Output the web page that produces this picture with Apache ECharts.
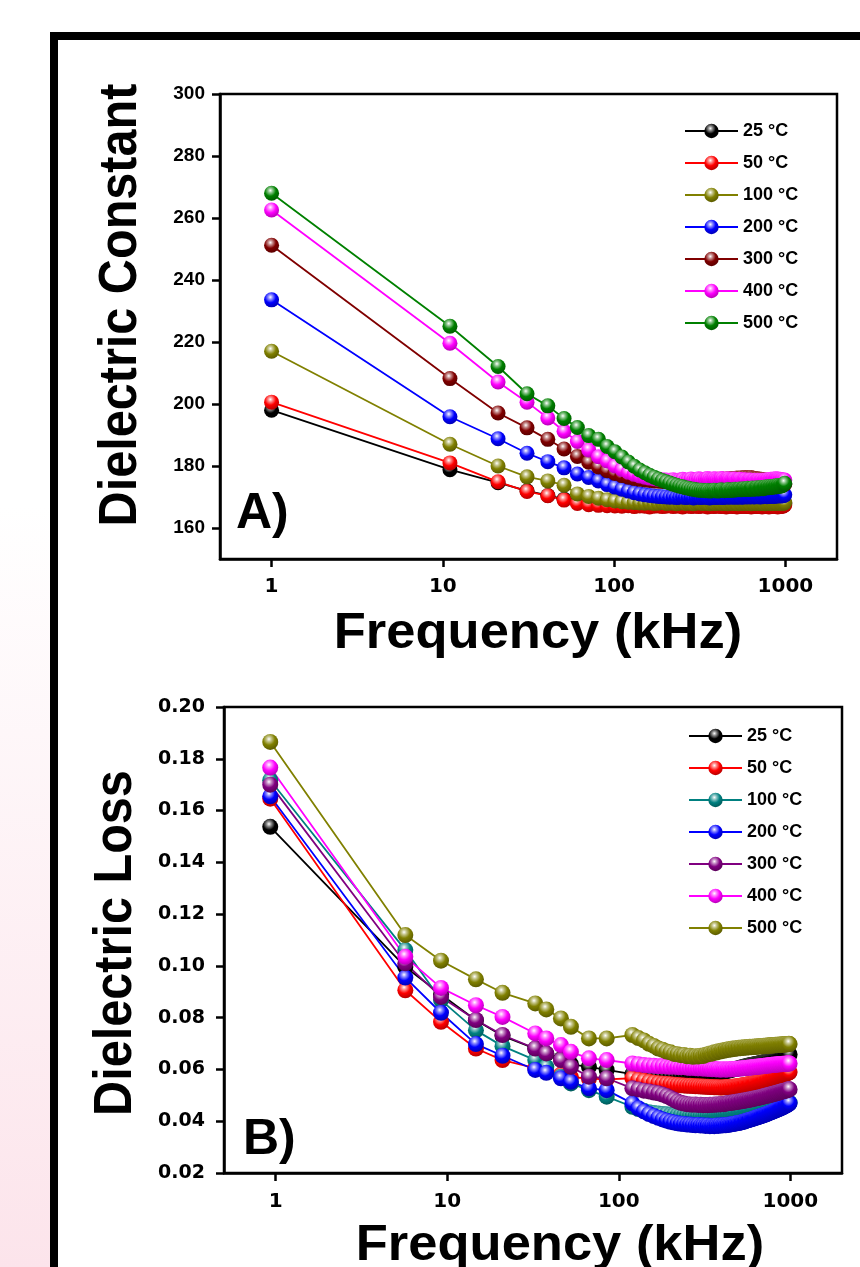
<!DOCTYPE html>
<html>
<head>
<meta charset="utf-8">
<script src="https://cdn.jsdelivr.net/npm/echarts@6/dist/echarts.min.js"></script>
<style>
html, body { margin: 0; padding: 0; background: #fff; }
#wrap { position: relative; width: 860px; height: 1267px; }
#chartA, #chartB { position: absolute; left: 0; top: 0; width: 860px; height: 1267px; }
</style>
</head>
<body>
<div id="wrap"><div id="chartA"></div><div id="chartB"></div></div>
<script>
// ---- data ----
const tempNames = ['25 °C', '50 °C', '100 °C', '200 °C', '300 °C', '400 °C', '500 °C']
const colorsA = ['#000000', '#ff0000', '#808000', '#0000ff', '#800000', '#ff00ff', '#008000']
const colorsB = ['#000000', '#ff0000', '#008080', '#0000ff', '#800080', '#ff00ff', '#808000']
const freqTicks = [1, 10, 100, 1000]
const constTicks = [160, 180, 200, 220, 240, 260, 280, 300]
const lossTicks = [0.02, 0.04, 0.06, 0.08, 0.10, 0.12, 0.14, 0.16, 0.18, 0.20]

// frequency (kHz), panel A
const freqA = [1, 11, 21, 31, 41, 51, 61, 71, 81, 91,
  101, 111, 121, 131, 141, 151, 161, 171, 181, 191,
  201, 211, 221, 231, 241, 251, 261, 271, 281, 291,
  301, 311, 321, 331, 341, 351, 361, 371, 381, 391,
  401, 411, 421, 431, 441, 451, 461, 471, 481, 491,
  501, 511, 521, 531, 541, 551, 561, 571, 581, 591,
  601, 611, 621, 631, 641, 651, 661, 671, 681, 691,
  701, 711, 721, 731, 741, 751, 761, 771, 781, 791,
  801, 811, 821, 831, 841, 851, 861, 871, 881, 891,
  901, 911, 921, 931, 941, 951, 961, 971, 981, 991]

const const25 = [198.0, 178.8, 174.6, 172.0, 170.5, 169.3, 168.4, 167.9, 167.7, 167.6,
  167.5, 167.6, 167.4, 167.5, 167.7, 167.5, 167.4, 167.6, 167.5, 167.3,
  167.5, 167.6, 167.4, 167.5, 167.7, 167.5, 167.3, 167.5, 167.6, 167.4,
  167.5, 167.7, 167.5, 167.4, 167.6, 167.5, 167.3, 167.5, 167.6, 167.4,
  167.6, 167.5, 167.4, 167.6, 167.7, 167.5, 167.4, 167.6, 167.5, 167.4,
  167.6, 167.7, 167.5, 167.4, 167.6, 167.5, 167.7, 167.6, 167.4, 167.5,
  167.7, 167.6, 167.5, 167.7, 167.8, 167.6, 167.5, 167.7, 167.6, 167.5,
  167.7, 167.8, 167.6, 167.5, 167.7, 167.6, 167.8, 167.7, 167.5, 167.6,
  167.8, 167.7, 167.6, 167.8, 167.9, 167.7, 167.6, 167.8, 167.7, 167.6,
  167.8, 167.9, 167.7, 167.6, 167.8, 167.7, 167.9, 167.8, 167.7, 167.9]
const const50 = [200.6, 181.0, 174.9, 171.8, 170.4, 169.0, 167.9, 167.5, 167.3, 167.2,
  167.1, 167.0, 167.2, 166.9, 167.1, 167.0, 166.8, 167.0, 167.1, 166.9,
  167.0, 167.2, 166.9, 167.1, 167.0, 166.8, 167.0, 167.2, 166.9, 167.0,
  167.1, 166.9, 167.0, 167.2, 167.0, 166.8, 167.0, 167.1, 166.9, 167.0,
  167.2, 167.0, 166.9, 167.1, 167.0, 166.8, 167.0, 167.2, 167.0, 166.9,
  167.1, 167.0, 166.8, 167.0, 167.1, 166.9, 167.0, 167.2, 167.0, 166.9,
  167.0, 167.1, 166.9, 166.8, 167.0, 167.1, 166.9, 167.0, 167.2, 167.0,
  166.9, 167.1, 167.0, 166.8, 167.0, 167.1, 166.9, 167.0, 167.2, 167.0,
  166.8, 167.0, 167.1, 166.9, 167.0, 167.2, 167.0, 166.9, 167.1, 167.0,
  166.8, 167.0, 167.1, 166.9, 167.0, 167.2, 167.0, 167.1, 167.3, 167.4]
const const100 = [217.0, 187.0, 180.0, 176.5, 175.2, 173.8, 171.0, 170.2, 169.6, 169.1,
  168.7, 168.5, 168.3, 168.2, 168.1, 168.0, 168.1, 167.9, 168.0, 168.2,
  167.9, 168.0, 168.1, 167.8, 168.0, 168.2, 167.9, 168.1, 168.0, 167.8,
  168.0, 168.2, 168.0, 167.9, 168.1, 168.0, 167.8, 168.0, 168.1, 167.9,
  168.0, 168.2, 168.0, 167.9, 168.1, 168.0, 167.8, 168.0, 168.2, 168.0,
  167.9, 168.1, 168.0, 167.8, 168.0, 168.1, 167.9, 168.0, 168.2, 168.0,
  167.9, 168.1, 168.0, 167.8, 168.0, 168.1, 167.9, 168.1, 168.0, 167.9,
  168.0, 168.2, 168.0, 167.9, 168.1, 168.0, 167.8, 168.0, 168.1, 167.9,
  168.0, 168.2, 168.0, 167.9, 168.1, 168.0, 167.9, 168.1, 168.2, 168.0,
  168.1, 167.9, 168.0, 168.2, 168.0, 168.1, 167.9, 168.1, 168.0, 168.2]
const const200 = [233.6, 195.9, 188.8, 184.1, 181.4, 179.4, 177.4, 176.3, 175.2, 174.0,
  173.2, 172.5, 171.9, 171.4, 171.0, 170.7, 170.5, 170.3, 170.2, 170.1,
  170.0, 169.9, 170.0, 169.8, 169.9, 170.1, 169.8, 169.9, 170.0, 169.7,
  169.9, 170.0, 169.8, 169.9, 170.1, 169.8, 169.7, 169.9, 170.0, 169.8,
  169.9, 170.1, 169.9, 169.8, 170.0, 170.1, 169.9, 170.0, 170.2, 169.9,
  170.0, 170.1, 169.9, 170.0, 170.2, 170.0, 169.9, 170.1, 170.2, 170.0,
  170.1, 170.2, 170.0, 170.1, 170.3, 170.1, 170.0, 170.2, 170.3, 170.1,
  170.2, 170.0, 170.1, 170.3, 170.1, 170.2, 170.4, 170.2, 170.1, 170.3,
  170.2, 170.4, 170.2, 170.3, 170.5, 170.3, 170.2, 170.4, 170.3, 170.5,
  170.3, 170.4, 170.6, 170.4, 170.3, 170.5, 170.4, 170.6, 170.5, 170.7]
const const300 = [251.2, 208.2, 197.1, 192.3, 188.6, 185.5, 183.1, 181.2, 179.7, 178.5,
  177.6, 176.9, 176.4, 176.0, 175.7, 175.5, 175.3, 175.2, 175.1, 175.0,
  175.0, 174.9, 175.1, 174.8, 175.0, 175.2, 174.9, 175.1, 175.3, 175.0,
  175.2, 175.4, 175.1, 175.3, 175.5, 175.2, 175.4, 175.6, 175.3, 175.5,
  175.7, 175.4, 175.6, 175.8, 175.5, 175.7, 175.9, 175.6, 175.8, 176.0,
  175.7, 175.9, 176.1, 175.8, 176.0, 176.2, 175.9, 176.1, 176.3, 176.0,
  176.2, 175.9, 176.1, 176.3, 176.0, 175.8, 176.0, 175.7, 175.9, 175.6,
  175.8, 175.5, 175.7, 175.4, 175.6, 175.3, 175.5, 175.2, 175.4, 175.1,
  175.3, 175.0, 175.2, 174.9, 175.1, 174.8, 175.0, 174.7, 174.9, 174.6,
  174.8, 174.5, 174.7, 174.4, 174.6, 174.3, 174.5, 174.2, 174.4, 174.1]
const const400 = [262.6, 219.6, 207.1, 200.6, 195.5, 191.2, 187.9, 185.2, 183.0, 181.6,
  180.0, 178.9, 178.0, 177.3, 176.8, 176.4, 176.1, 175.9, 175.7, 175.6,
  175.5, 175.4, 175.6, 175.3, 175.5, 175.7, 175.4, 175.6, 175.8, 175.5,
  175.6, 175.9, 175.7, 175.5, 175.8, 176.0, 175.7, 175.6, 175.9, 175.8,
  175.6, 175.7, 176.0, 175.8, 175.5, 175.7, 175.9, 175.6, 175.4, 175.7,
  175.8, 175.5, 175.3, 175.6, 175.7, 175.4, 175.2, 175.5, 175.6, 175.3,
  175.1, 175.4, 175.5, 175.2, 175.0, 175.3, 175.4, 175.1, 175.2, 175.4,
  175.3, 175.0, 175.2, 175.4, 175.1, 175.3, 175.5, 175.2, 175.4, 175.6,
  175.3, 175.5, 175.7, 175.4, 175.6, 175.8, 175.5, 175.7, 175.9, 175.6,
  175.8, 175.6, 175.4, 175.7, 175.5, 175.3, 175.6, 175.4, 175.2, 175.5]
const const500 = [268.0, 225.1, 212.1, 203.3, 199.4, 195.3, 192.4, 189.8, 188.6, 186.3,
  184.6, 182.9, 181.3, 179.9, 178.7, 177.8, 177.0, 176.4, 175.8, 175.3,
  174.9, 174.5, 174.1, 173.8, 173.5, 173.3, 173.0, 172.8, 172.6, 172.5,
  172.3, 172.2, 172.2, 172.1, 172.0, 172.1, 171.9, 172.0, 172.2, 172.1,
  171.9, 172.0, 172.3, 172.1, 172.0, 172.2, 172.4, 172.1, 172.2, 172.3,
  172.2, 172.5, 172.3, 172.4, 172.6, 172.3, 172.5, 172.7, 172.4, 172.5,
  172.8, 172.6, 172.4, 172.7, 172.9, 172.6, 172.5, 172.8, 173.0, 172.7,
  172.6, 172.9, 173.1, 172.8, 172.7, 173.0, 173.2, 172.9, 173.1, 173.3,
  173.0, 173.2, 173.4, 173.1, 173.3, 173.5, 173.2, 173.4, 173.6, 173.3,
  173.5, 173.7, 173.4, 173.6, 173.8, 173.6, 173.8, 174.0, 174.2, 174.4]

// frequency (kHz), panel B
const freqB = [0.93, 5.7, 9.2, 14.7, 21, 32.6, 37.8, 46, 52.6, 67, 85,
  120, 130, 140, 150, 160, 170, 180, 190, 200, 210,
  220, 230, 240, 250, 260, 270, 280, 290, 300, 310,
  320, 330, 340, 350, 360, 370, 380, 390, 400, 410,
  420, 430, 440, 450, 460, 470, 480, 490, 500, 510,
  520, 530, 540, 550, 560, 570, 580, 590, 600, 610,
  620, 630, 640, 650, 660, 670, 680, 690, 700, 710,
  720, 730, 740, 750, 760, 770, 780, 790, 800, 810,
  820, 830, 840, 850, 860, 870, 880, 890, 900, 910,
  920, 930, 940, 950, 960, 970, 980, 990]

const loss25 = [0.1537, 0.0996, 0.0890, 0.0790, 0.0730, 0.0680, 0.0660, 0.0640, 0.0620, 0.0610, 0.0598,
  0.0582, 0.0580, 0.0579, 0.0578, 0.0577, 0.0576, 0.0576, 0.0575, 0.0575, 0.0575,
  0.0575, 0.0575, 0.0576, 0.0576, 0.0577, 0.0577, 0.0578, 0.0578, 0.0579, 0.0580,
  0.0581, 0.0582, 0.0583, 0.0584, 0.0585, 0.0586, 0.0588, 0.0589, 0.0590, 0.0592,
  0.0593, 0.0595, 0.0596, 0.0598, 0.0599, 0.0601, 0.0602, 0.0604, 0.0605, 0.0607,
  0.0608, 0.0609, 0.0611, 0.0612, 0.0613, 0.0615, 0.0616, 0.0617, 0.0618, 0.0619,
  0.0620, 0.0621, 0.0622, 0.0623, 0.0624, 0.0625, 0.0626, 0.0627, 0.0628, 0.0629,
  0.0630, 0.0631, 0.0632, 0.0633, 0.0634, 0.0635, 0.0636, 0.0637, 0.0638, 0.0639,
  0.0640, 0.0641, 0.0642, 0.0643, 0.0644, 0.0645, 0.0646, 0.0647, 0.0648, 0.0649,
  0.0650, 0.0651, 0.0652, 0.0653, 0.0654, 0.0655, 0.0656, 0.0658]
const loss50 = [0.1646, 0.0906, 0.0784, 0.0681, 0.0636, 0.0605, 0.0595, 0.0580, 0.0570, 0.0565, 0.0562,
  0.0566, 0.0560, 0.0556, 0.0552, 0.0549, 0.0547, 0.0545, 0.0544, 0.0543, 0.0541,
  0.0540, 0.0539, 0.0538, 0.0537, 0.0537, 0.0536, 0.0535, 0.0535, 0.0534, 0.0534,
  0.0533, 0.0533, 0.0532, 0.0532, 0.0531, 0.0531, 0.0531, 0.0530, 0.0530, 0.0531,
  0.0531, 0.0532, 0.0532, 0.0533, 0.0533, 0.0534, 0.0534, 0.0535, 0.0536, 0.0537,
  0.0538, 0.0539, 0.0540, 0.0541, 0.0542, 0.0543, 0.0544, 0.0545, 0.0546, 0.0547,
  0.0548, 0.0549, 0.0550, 0.0551, 0.0552, 0.0553, 0.0554, 0.0555, 0.0556, 0.0557,
  0.0558, 0.0560, 0.0561, 0.0562, 0.0563, 0.0564, 0.0566, 0.0567, 0.0568, 0.0569,
  0.0570, 0.0572, 0.0573, 0.0574, 0.0575, 0.0576, 0.0578, 0.0579, 0.0580, 0.0581,
  0.0582, 0.0583, 0.0584, 0.0585, 0.0586, 0.0587, 0.0588, 0.0590]
const loss100 = [0.1717, 0.1061, 0.0868, 0.0751, 0.0690, 0.0636, 0.0610, 0.0572, 0.0546, 0.0520, 0.0495,
  0.0456, 0.0447, 0.0440, 0.0435, 0.0432, 0.0430, 0.0428, 0.0427, 0.0425, 0.0424,
  0.0423, 0.0423, 0.0422, 0.0422, 0.0421, 0.0421, 0.0420, 0.0421, 0.0420, 0.0420,
  0.0421, 0.0421, 0.0422, 0.0422, 0.0423, 0.0423, 0.0424, 0.0424, 0.0425, 0.0425,
  0.0426, 0.0427, 0.0427, 0.0428, 0.0429, 0.0429, 0.0430, 0.0431, 0.0432, 0.0432,
  0.0433, 0.0434, 0.0435, 0.0436, 0.0437, 0.0438, 0.0439, 0.0439, 0.0440, 0.0441,
  0.0442, 0.0443, 0.0444, 0.0445, 0.0446, 0.0447, 0.0448, 0.0449, 0.0450, 0.0451,
  0.0451, 0.0452, 0.0453, 0.0454, 0.0455, 0.0456, 0.0457, 0.0458, 0.0458, 0.0459,
  0.0460, 0.0461, 0.0461, 0.0462, 0.0463, 0.0464, 0.0464, 0.0465, 0.0466, 0.0466,
  0.0467, 0.0468, 0.0468, 0.0469, 0.0470, 0.0470, 0.0471, 0.0472]
const loss200 = [0.1655, 0.0955, 0.0819, 0.0698, 0.0653, 0.0598, 0.0587, 0.0566, 0.0552, 0.0527, 0.0520,
  0.0469, 0.0450, 0.0438, 0.0428, 0.0420, 0.0413, 0.0407, 0.0402, 0.0398, 0.0395,
  0.0392, 0.0390, 0.0389, 0.0387, 0.0387, 0.0385, 0.0384, 0.0385, 0.0383, 0.0384,
  0.0382, 0.0383, 0.0381, 0.0382, 0.0381, 0.0383, 0.0382, 0.0384, 0.0383, 0.0385,
  0.0384, 0.0386, 0.0386, 0.0388, 0.0389, 0.0390, 0.0391, 0.0393, 0.0393, 0.0395,
  0.0396, 0.0398, 0.0399, 0.0401, 0.0403, 0.0404, 0.0406, 0.0407, 0.0409, 0.0410,
  0.0412, 0.0413, 0.0415, 0.0416, 0.0418, 0.0419, 0.0421, 0.0422, 0.0424, 0.0425,
  0.0427, 0.0428, 0.0430, 0.0431, 0.0433, 0.0434, 0.0436, 0.0437, 0.0439, 0.0440,
  0.0442, 0.0443, 0.0445, 0.0446, 0.0448, 0.0449, 0.0451, 0.0452, 0.0454, 0.0455,
  0.0457, 0.0458, 0.0460, 0.0461, 0.0463, 0.0465, 0.0467, 0.0470]
const loss300 = [0.1700, 0.1010, 0.0880, 0.0791, 0.0733, 0.0681, 0.0662, 0.0636, 0.0610, 0.0572, 0.0566,
  0.0527, 0.0523, 0.0518, 0.0515, 0.0511, 0.0508, 0.0503, 0.0497, 0.0490, 0.0483,
  0.0476, 0.0471, 0.0468, 0.0466, 0.0465, 0.0464, 0.0465, 0.0463, 0.0464, 0.0462,
  0.0463, 0.0462, 0.0464, 0.0463, 0.0465, 0.0464, 0.0466, 0.0465, 0.0467, 0.0466,
  0.0468, 0.0469, 0.0471, 0.0470, 0.0473, 0.0472, 0.0475, 0.0474, 0.0477, 0.0476,
  0.0479, 0.0478, 0.0481, 0.0480, 0.0483, 0.0482, 0.0485, 0.0484, 0.0487, 0.0486,
  0.0489, 0.0488, 0.0491, 0.0490, 0.0493, 0.0492, 0.0495, 0.0494, 0.0497, 0.0496,
  0.0499, 0.0498, 0.0501, 0.0500, 0.0503, 0.0502, 0.0505, 0.0504, 0.0507, 0.0506,
  0.0509, 0.0508, 0.0511, 0.0510, 0.0513, 0.0512, 0.0515, 0.0514, 0.0517, 0.0516,
  0.0518, 0.0517, 0.0520, 0.0519, 0.0522, 0.0521, 0.0524, 0.0523]
const loss400 = [0.1766, 0.1035, 0.0915, 0.0848, 0.0803, 0.0739, 0.0720, 0.0694, 0.0668, 0.0643, 0.0636,
  0.0623, 0.0620, 0.0617, 0.0615, 0.0614, 0.0612, 0.0613, 0.0611, 0.0610, 0.0611,
  0.0609, 0.0608, 0.0609, 0.0607, 0.0606, 0.0607, 0.0605, 0.0604, 0.0605, 0.0603,
  0.0604, 0.0602, 0.0603, 0.0601, 0.0602, 0.0600, 0.0601, 0.0599, 0.0600, 0.0601,
  0.0599, 0.0600, 0.0601, 0.0600, 0.0602, 0.0601, 0.0603, 0.0602, 0.0604, 0.0603,
  0.0605, 0.0604, 0.0606, 0.0605, 0.0607, 0.0606, 0.0608, 0.0607, 0.0609, 0.0608,
  0.0610, 0.0609, 0.0611, 0.0610, 0.0612, 0.0611, 0.0613, 0.0612, 0.0614, 0.0613,
  0.0615, 0.0614, 0.0616, 0.0615, 0.0617, 0.0616, 0.0618, 0.0617, 0.0619, 0.0618,
  0.0619, 0.0618, 0.0620, 0.0619, 0.0621, 0.0620, 0.0621, 0.0620, 0.0622, 0.0621,
  0.0622, 0.0621, 0.0623, 0.0622, 0.0623, 0.0622, 0.0624, 0.0623]
const loss500 = [0.1865, 0.1119, 0.1020, 0.0948, 0.0896, 0.0855, 0.0832, 0.0797, 0.0765, 0.0720, 0.0720,
  0.0733, 0.0721, 0.0712, 0.0699, 0.0691, 0.0681, 0.0676, 0.0669, 0.0666, 0.0660,
  0.0659, 0.0655, 0.0656, 0.0651, 0.0653, 0.0649, 0.0651, 0.0650, 0.0653, 0.0652,
  0.0657, 0.0658, 0.0662, 0.0661, 0.0666, 0.0665, 0.0670, 0.0669, 0.0673, 0.0672,
  0.0676, 0.0675, 0.0679, 0.0677, 0.0681, 0.0679, 0.0682, 0.0681, 0.0684, 0.0682,
  0.0685, 0.0683, 0.0686, 0.0684, 0.0687, 0.0685, 0.0688, 0.0686, 0.0688, 0.0687,
  0.0689, 0.0687, 0.0690, 0.0688, 0.0690, 0.0689, 0.0691, 0.0689, 0.0692, 0.0690,
  0.0692, 0.0690, 0.0693, 0.0691, 0.0693, 0.0692, 0.0694, 0.0692, 0.0694, 0.0693,
  0.0695, 0.0693, 0.0695, 0.0694, 0.0696, 0.0694, 0.0696, 0.0695, 0.0697, 0.0695,
  0.0697, 0.0696, 0.0698, 0.0696, 0.0698, 0.0697, 0.0699, 0.0698]

const constSets = [const25, const50, const100, const200, const300, const400, const500]
const lossSets = [loss25, loss50, loss100, loss200, loss300, loss400, loss500]

// ---- styling helpers ----
const FONT = '"Liberation Sans", Arial, sans-serif'
const WIDE = '"DejaVu Sans", sans-serif'

function mix(hex, toWhite, t) {
  const n = parseInt(hex.slice(1), 16)
  const r = (n >> 16) & 255, g = (n >> 8) & 255, b = n & 255
  const m = toWhite ? 255 : 0
  return 'rgb(' + Math.round(r + (m - r) * t) + ',' + Math.round(g + (m - g) * t) + ',' + Math.round(b + (m - b) * t) + ')'
}

// shaded ball marker
function ball(c) {
  return {
    type: 'radial', x: 0.42, y: 0.32, r: 0.75,
    colorStops: [
      { offset: 0, color: '#ffffff' },
      { offset: 0.2, color: mix(c, true, 0.55) },
      { offset: 0.5, color: c },
      { offset: 1, color: mix(c, false, 0.35) },
    ],
  }
}

function makeSeries(freqs, sets, colors, size) {
  return sets.map((vals, i) => ({
    name: tempNames[i],
    type: 'line',
    data: freqs.map((f, k) => [f, vals[k]]),
    symbol: 'circle',
    symbolSize: size,
    showAllSymbol: true,
    lineStyle: { color: colors[i], width: 1.8 },
    itemStyle: { color: ball(colors[i]) },
    emphasis: { disabled: true },
  }))
}

function xAxisCfg(margin) {
  return {
    type: 'log',
    logBase: 10,
    min: 0.5,
    max: 2000,
    axisLine: { lineStyle: { color: '#000', width: 2.5 } },
    axisTick: { length: 8, lineStyle: { color: '#000', width: 2.5 }, customValues: freqTicks },
    axisLabel: {
      customValues: freqTicks,
      margin: margin,
      color: '#000',
      fontFamily: WIDE,
      fontWeight: 'bold',
      fontSize: 20,
      formatter: v => String(Math.round(v)),
    },
    splitLine: { show: false },
  }
}

function legendCfg(top, left) {
  return {
    orient: 'vertical',
    left: left,
    top: top,
    padding: 0,
    itemWidth: 53,
    itemHeight: 18,
    itemGap: 14,
    selectedMode: false,
    textStyle: { fontFamily: FONT, fontWeight: 'bold', fontSize: 18, color: '#000' },
    data: tempNames,
  }
}

function bigText(text, x, y, size, rot, sx, align) {
  return {
    type: 'text',
    x: x,
    y: y,
    rotation: rot,
    scaleX: sx,
    style: {
      text: text,
      font: 'bold ' + size + 'px ' + FONT,
      fill: '#000',
      align: align || 'center',
      verticalAlign: 'middle',
    },
  }
}

// ---- panel A (with page frame) ----
const chartA = echarts.init(document.getElementById('chartA'))
chartA.setOption({
  animation: false,
  backgroundColor: '#ffffff',
  graphic: [
    {
      type: 'rect',
      z: -10,
      shape: { x: 0, y: 0, width: 54, height: 1267 },
      style: {
        fill: {
          type: 'linear', x: 0, y: 0, x2: 0, y2: 1,
          colorStops: [
            { offset: 0, color: '#ffffff' },
            { offset: 0.4, color: '#ffffff' },
            { offset: 1, color: '#fce4eb' },
          ],
        },
      },
    },
    {
      type: 'rect',
      shape: { x: 54, y: 36, width: 900, height: 1300 },
      style: { fill: 'none', stroke: '#000', lineWidth: 8 },
    },
    bigText('Dielectric Constant', 121, 305, 54, Math.PI / 2, 0.9),
    bigText('Frequency (kHz)', 538, 634, 50, 0, 1.05),
    bigText('A)', 236, 514, 50, 0, 1, 'left'),
  ],
  grid: {
    left: 220, top: 94, width: 617, height: 465,
    show: true, borderColor: '#000', borderWidth: 2.5,
  },
  legend: legendCfg(122, 684),
  xAxis: xAxisCfg(18),
  yAxis: {
    type: 'value',
    min: 150,
    max: 300,
    axisLine: { show: true, lineStyle: { color: '#000', width: 2.5 } },
    axisTick: { show: true, length: 8, lineStyle: { color: '#000', width: 2.5 }, customValues: constTicks },
    axisLabel: {
      customValues: constTicks,
      margin: 15,
      color: '#000',
      fontFamily: '"Liberation Sans Narrow", ' + FONT,
      fontWeight: 'bold',
      fontSize: 19,
      formatter: v => String(v),
    },
    splitLine: { show: false },
  },
  series: makeSeries(freqA, constSets, colorsA, 15),
})

// ---- panel B ----
const chartB = echarts.init(document.getElementById('chartB'))
chartB.setOption({
  animation: false,
  backgroundColor: 'transparent',
  graphic: [
    bigText('Dielectric Loss', 116, 943, 54, Math.PI / 2, 0.9),
    bigText('Frequency (kHz)', 560, 1246, 50, 0, 1.05),
    bigText('B)', 243, 1140, 50, 0, 1, 'left'),
  ],
  grid: {
    left: 224, top: 707, width: 618, height: 466,
    show: true, borderColor: '#000', borderWidth: 2.5,
  },
  legend: legendCfg(727, 688),
  xAxis: xAxisCfg(19),
  yAxis: {
    type: 'value',
    min: 0.02,
    max: 0.2,
    interval: 0.02,
    axisLine: { show: true, lineStyle: { color: '#000', width: 2.5 } },
    axisTick: { show: true, length: 8, lineStyle: { color: '#000', width: 2.5 }, customValues: lossTicks },
    axisLabel: {
      customValues: lossTicks,
      margin: 19,
      color: '#000',
      fontFamily: WIDE,
      fontWeight: 'bold',
      fontSize: 19,
      formatter: v => v.toFixed(2),
    },
    splitLine: { show: false },
  },
  series: makeSeries(freqB, lossSets, colorsB, 16),
})
</script>
</body>
</html>
